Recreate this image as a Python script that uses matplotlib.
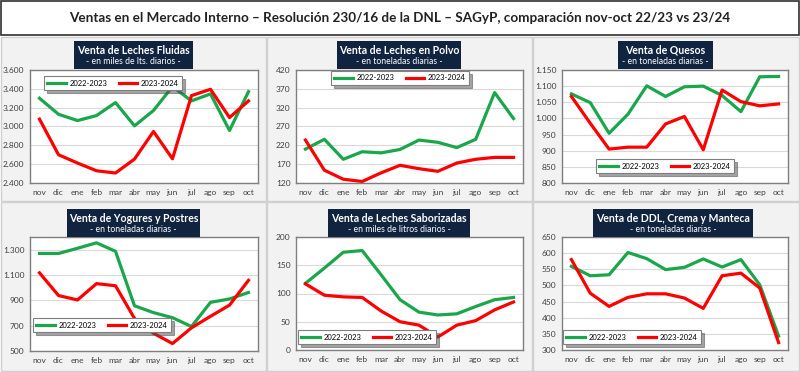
import matplotlib.pyplot as plt
from matplotlib.patches import Rectangle
from matplotlib.ticker import FuncFormatter

plt.rcParams['font.family'] = ['Lato', 'DejaVu Sans']

W, H = 800, 372

months = ["nov", "dic", "ene", "feb", "mar", "abr", "may", "jun", "jul", "ago", "sep", "oct"]
label_a = "2022-2023"
label_b = "2023-2024"

# Leches fluidas (miles de lts. diarios)
fluidas_a = [3300, 3130, 3063, 3116, 3254, 3007, 3170, 3424, 3272, 3346, 2958, 3370]
fluidas_b = [3078, 2700, 2612, 2530, 2506, 2654, 2947, 2657, 3328, 3395, 3095, 3272]
# Leches en polvo (toneladas diarias)
polvo_a = [210, 236, 183, 203, 200, 209, 234, 228, 214, 236, 360, 291]
polvo_b = [234, 154, 130, 124, 147, 167, 158, 151, 173, 183, 188, 188]
# Quesos (toneladas diarias)
quesos_a = [1076, 1049, 954, 1013, 1101, 1068, 1098, 1100, 1071, 1021, 1129, 1130]
quesos_b = [1068, 985, 905, 911, 911, 983, 1006, 903, 1088, 1052, 1039, 1045]
# Yogures y postres (toneladas diarias)
yogures_a = [1270, 1270, 1311, 1354, 1287, 857, 803, 763, 693, 884, 911, 962]
yogures_b = [1117, 938, 903, 1032, 1015, 757, 640, 559, 683, 774, 862, 1058]
# Leches saborizadas (miles de litros diarios)
sabor_a = [118, 145, 173, 176, 133, 89, 67, 62, 64, 77, 89, 93]
sabor_b = [117, 97, 94, 93, 69, 50, 44, 23, 44, 52, 71, 85]
# DDL, crema y manteca (toneladas diarias)
ddl_a = [559, 530, 533, 602, 583, 549, 556, 582, 557, 580, 502, 343]
ddl_b = [580, 476, 435, 463, 474, 474, 461, 429, 530, 538, 492, 323]

titles = ["Venta de Leches Fluidas", "Venta de Leches en Polvo", "Venta de Quesos",
          "Venta de Yogures y Postres", "Venta de Leches Saborizadas", "Venta de DDL, Crema y Manteca"]
subtitles = ["- en miles de lts. diarios -", "- en toneladas diarias -", "- en toneladas diarias -",
             "- en toneladas diarias -", "- en miles de litros diarios -", "- en toneladas diarias -"]
series = [(fluidas_a, fluidas_b), (polvo_a, polvo_b), (quesos_a, quesos_b),
          (yogures_a, yogures_b), (sabor_a, sabor_b), (ddl_a, ddl_b)]
ylims = [(2400, 3600, 200), (120, 420, 50), (800, 1150, 50),
         (500, 1400, 200), (0, 200, 50), (300, 650, 50)]

# pixel boxes: panel, plot area, title box, legend centre
panels = [(1, 37, 266, 201), (267, 37, 532, 201), (533, 37, 799, 201),
          (1, 202, 266, 371), (267, 202, 532, 371), (533, 202, 799, 371)]
plots = [(30, 70, 258, 183), (296, 70, 523, 183), (562, 70, 788, 183),
         (30, 237, 258, 351), (296, 237, 523, 350), (562, 237, 788, 350)]
tboxes = [(74, 41, 193, 69), (337, 41, 461, 69), (618, 41, 713, 69),
          (67, 209, 200, 237), (328, 209, 470, 237), (593, 209, 753, 237)]
legs = [(113, 83), (400, 78), (665, 166), (102, 325), (367, 337), (632, 337)]

GREEN = "#1aa64a"
RED = "#ff0000"
NAVY = "#10233f"


def fx(x):
    return x / W


def fy(y):
    return 1 - y / H


def box(l, t, r, b):
    return [fx(l), fy(b), (r - l) / W, (b - t) / H]


fmt = FuncFormatter(lambda v, p: f"{v:,.0f}".replace(",", "."))

fig = plt.figure(figsize=(W / 100, H / 100), dpi=100)
fig.patch.set_facecolor("white")

# main title
fig.patches.append(Rectangle((fx(1), fy(35)), (W - 2) / W, 34 / H, transform=fig.transFigure,
                             facecolor="white", edgecolor="#303030", lw=1.2, zorder=-1))
fig.text(0.5, fy(18), "Ventas en el Mercado Interno \u2013 Resolución 230/16 de la DNL \u2013 SAGyP, "
         "comparación nov-oct 22/23 vs 23/24", ha="center", va="center", fontsize=9.7,
         fontweight="bold", color="#222222")

for i in range(6):
    l, t, r, b = panels[i]
    fig.patches.append(Rectangle((fx(l), fy(b)), (r - l) / W, (b - t) / H, transform=fig.transFigure,
                                 facecolor="#f2f2f2", edgecolor="#d0d0d0", lw=1, zorder=-1))

    ax = fig.add_axes(box(*plots[i]))
    a, bb = series[i]
    ln1, = ax.plot(range(12), a, color=GREEN, lw=2.3, label=label_a)
    ln2, = ax.plot(range(12), bb, color=RED, lw=2.3, label=label_b)
    lo, hi, step = ylims[i]
    ax.set_ylim(lo, hi)
    ax.set_yticks(range(lo, hi + 1, step))
    ax.yaxis.set_major_formatter(fmt)
    ax.set_xlim(-0.5, 11.5)
    ax.set_xticks(range(12))
    ax.set_xticklabels(months)
    ax.tick_params(length=0, labelsize=6, colors="#404040", pad=4)
    ax.grid(axis="y", color="#d9d9d9", lw=0.8)
    ax.set_axisbelow(True)
    for s in ax.spines.values():
        s.set_color("#7f7f7f")
        s.set_linewidth(1)

    # title box
    tl, tt, tr, tb = tboxes[i]
    fig.patches.append(Rectangle((fx(tl), fy(tb)), (tr - tl) / W, (tb - tt) / H,
                                 transform=fig.transFigure, facecolor=NAVY, edgecolor="none", zorder=5))
    cx = fx((tl + tr) / 2)
    fig.text(cx, fy(tt + 9), titles[i], ha="center", va="center", fontsize=7.6,
             fontweight="bold", color="white", zorder=6)
    fig.text(cx, fy(tt + 21), subtitles[i], ha="center", va="center", fontsize=6.2,
             color="white", zorder=6)

    lx, ly = legs[i]
    leg = ax.legend(handles=[ln1, ln2], loc="center", bbox_to_anchor=(fx(lx), fy(ly)),
                    bbox_transform=fig.transFigure, ncol=2, fontsize=5.5, frameon=True,
                    fancybox=False, shadow=True, edgecolor="#7f7f7f", framealpha=1,
                    handlelength=2.4, handletextpad=0.5, columnspacing=1.5,
                    borderpad=0.45, borderaxespad=0)
    leg.get_frame().set_linewidth(0.8)

fig.savefig("out.png", dpi=100)
